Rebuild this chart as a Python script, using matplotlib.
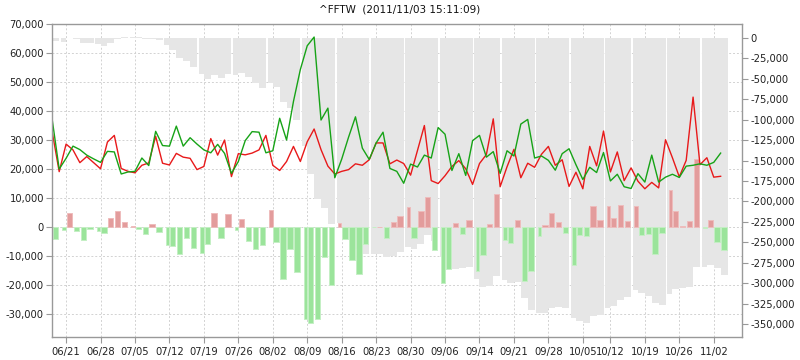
import numpy as np
import pandas as pd
import matplotlib
matplotlib.use("Agg")
import matplotlib.pyplot as plt
from matplotlib.ticker import FuncFormatter

title = "^FFTW  (2011/11/03 15:11:09)"

# trading days (Taiwan holidays 09/12 and 10/10 skipped)
dates = pd.bdate_range("2011-06-17", "2011-11-03", freq="C",
                       holidays=["2011-09-12", "2011-10-10"])

green_line = [36800, 20000, 23700, 27900, 26700, 24800, 23500, 22300, 26100, 25900,
              18300, 19000, 19200, 23800, 21200, 33000, 28100, 27900, 34800, 27900,
              30800, 28600, 26600, 25600, 28500, 25400, 18500, 22600, 29800, 32900,
              32700, 25600, 26300, 37500, 30000, 43300, 54300, 62500, 65500, 36900,
              41000, 17000, 23400, 31000, 38000, 27200, 23300, 29000, 32700, 20200,
              19200, 15100, 21700, 20700, 24800, 23800, 34300, 32000, 19500, 25300,
              17800, 29800, 31600, 24100, 26000, 18500, 26300, 24500, 35500, 37100,
              23800, 24500, 23000, 19600, 25300, 27000, 21500, 16400, 20600, 18800,
              25700, 15900, 18200, 13900, 13300, 18400, 15500, 24800, 15500, 17200,
              18200, 17100, 21000, 21300, 21800, 21300, 22300, 25500]

red_line = [32600, 19100, 28600, 26600, 22200, 24300, 22200, 20100, 29300, 31600,
            20200, 19200, 18700, 21300, 22100, 31300, 22000, 21400, 25400, 24100,
            23700, 19800, 20900, 30500, 24800, 30000, 17400, 25300, 24900, 25500,
            26600, 31600, 21300, 19500, 22600, 27800, 22600, 29400, 33800, 26700,
            21000, 18300, 19200, 19800, 21800, 21300, 23200, 29000, 29000, 21800,
            23100, 21900, 17900, 26400, 35000, 16000, 15000, 17700, 20900, 22900,
            20100, 14700, 21900, 25000, 37300, 13900, 20800, 26800, 17000, 22000,
            20600, 25100, 27800, 21300, 23200, 14000, 18900, 13200, 27800, 21100,
            33100, 19000, 25900, 16000, 20400, 15800, 13200, 15400, 13500, 30100,
            23900, 17300, 23000, 44800, 21500, 23900, 17200, 17500]

diff = [-4200, -900, 4900, -1300, -4500, -500, -1300, -2200, 3200, 5700,
        1900, 200, -500, -2500, 900, -1700, -6100, -6500, -9400, -3800,
        -7100, -8800, -5700, 4900, -3700, 4600, -1100, 2700, -4900, -7400,
        -6100, 6000, -5000, -18000, -7400, -15500, -31700, -33100, -31700, -10200,
        -20000, 1300, -4200, -11200, -16200, -5900, -100, 0, -3700, 1600,
        3900, 6800, -3800, 5700, 10200, -7800, -19300, -14300, 1400, -2400,
        2300, -15100, -9700, 900, 11300, -4600, -5500, 2300, -18500, -15100,
        -3200, 600, 4800, 1700, -2100, -13000, -2600, -3200, 7200, 2300,
        7400, 3100, 7700, 2100, 7100, -2600, -2300, -9400, -2000, 12900,
        5700, 200, 2000, 23500, -300, 2600, -5100, -8000]

cumulative = [-4200, -5100, -200, -1500, -6000, -6500, -7800, -10000, -6800, -1100,
              800, 1000, 500, -2000, -1100, -2800, -8900, -15400, -24800, -28600,
              -35700, -44500, -50200, -45300, -49000, -44400, -45500, -42800, -47700, -55100,
              -61200, -55200, -60200, -78200, -85600, -101100, -132800, -165900, -197600, -207800,
              -227800, -226500, -230700, -241900, -258100, -264000, -264100, -264100, -267800, -266200,
              -261500, -256000, -258500, -252500, -241500, -248500, -268000, -280000, -282500, -281000,
              -279500, -295000, -304000, -303500, -291500, -295500, -300000, -298000, -318000, -333000,
              -336500, -335700, -329500, -328400, -329500, -342600, -345500, -348700, -340000, -338600,
              -330500, -327600, -320300, -317000, -308500, -312000, -315300, -323400, -326300, -312900,
              -307200, -306000, -304000, -280400, -279600, -277500, -281600, -289700]

tick_labels = ["06/21", "06/28", "07/05", "07/12", "07/19", "07/26", "08/02",
               "08/09", "08/16", "08/23", "08/30", "09/06", "09/14", "09/21",
               "09/28", "10/05", "10/12", "10/19", "10/26", "11/02"]

x = np.arange(len(dates))
day_str = list(dates.strftime("%m/%d"))
tick_pos = [day_str.index(t) for t in tick_labels]

# first trading day of each week is drawn narrower (gap in the original)
weeks = dates.isocalendar().week.to_numpy()
week_start = np.r_[False, weeks[1:] != weeks[:-1]]

diff = np.array(diff)
fmt = FuncFormatter(lambda v, p: f"{v:,.0f}")

fig = plt.figure(figsize=(8, 3.6), dpi=100)
rect = [52.3 / 800, 23 / 360, 689.7 / 800, 313 / 360]
xlim = (0, 100.1)
ylim_left = (-37900, 70000)
ylim_right = (-365500, 16700)

# bottom layer: white background + dashed grid
axg = fig.add_axes(rect)
axg.set_xlim(xlim)
axg.set_ylim(ylim_left)
axg.set_xticks(tick_pos)
axg.set_yticks(np.arange(-30000, 70001, 10000))
axg.grid(True, linestyle=(0, (2, 2)), color="#d2d2d2", linewidth=0.7)
axg.tick_params(left=False, bottom=False, labelleft=False, labelbottom=False)
for s in axg.spines.values():
    s.set_visible(False)

# middle layer: cumulative gray bars on the right axis
ax2 = fig.add_axes(rect)
ax2.patch.set_visible(False)
gray_off = np.where(week_start, 0.25, 0.0)
ax2.bar(x + gray_off, cumulative, width=1.0 - gray_off, align="edge",
        color="#e6e6e6", linewidth=0)
ax2.set_xlim(xlim)
ax2.set_ylim(ylim_right)
ax2.yaxis.tick_right()
ax2.set_yticks(np.arange(-350000, 1, 25000))
ax2.yaxis.set_major_formatter(fmt)
ax2.tick_params(axis="y", direction="out", length=4, width=0.8, color="#999999",
                labelsize=7.2, labelcolor="#222222", pad=2)
ax2.tick_params(axis="x", bottom=False, labelbottom=False)
for s in ax2.spines.values():
    s.set_visible(False)

# top layer: daily difference bars and the two lines
ax = fig.add_axes(rect)
ax.patch.set_visible(False)
bar_off = np.where(week_start, 0.47, 0.1)
bar_w = np.where(week_start, 0.5, 0.78)
face = np.where(diff >= 0, "#e39c9c", "#9be49b")
edge = np.where(diff >= 0, "#eebcbc", "#c4efc4")
ax.bar(x + bar_off, diff, width=bar_w, align="edge", color=face,
       edgecolor=edge, linewidth=0.7)
ax.plot(x, red_line, color="#e8191a", linewidth=1.0)
ax.plot(x, green_line, color="#17a317", linewidth=1.0)
ax.set_xlim(xlim)
ax.set_ylim(ylim_left)
ax.set_yticks(np.arange(-30000, 70001, 10000))
ax.yaxis.set_major_formatter(fmt)
ax.set_xticks(tick_pos)
ax.set_xticklabels(tick_labels)
ax.tick_params(direction="out", length=4, width=0.8, color="#999999",
               labelsize=7.2, labelcolor="#222222", pad=2)
ax.tick_params(axis="x", pad=3)
for s in ax.spines.values():
    s.set_color("#999999")
    s.set_linewidth(1.0)

fig.text(0.5, 1 - 10 / 360, title, ha="center", va="center",
         fontsize=7.5, color="#111111")

fig.savefig("out.png", dpi=100)
